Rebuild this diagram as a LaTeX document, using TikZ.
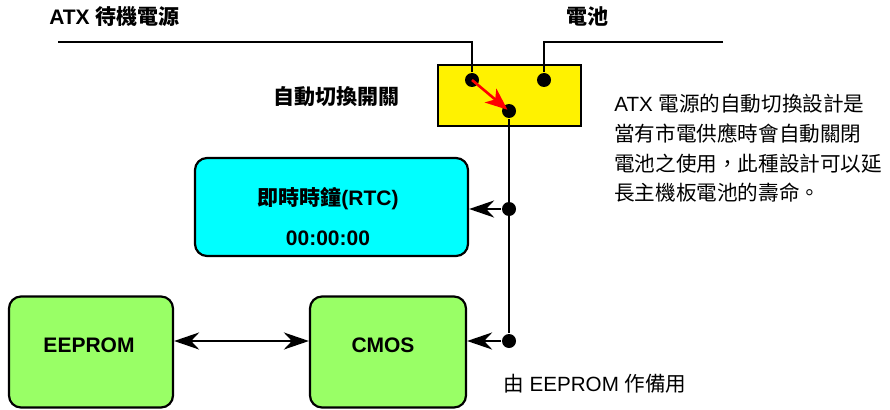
\documentclass[tikz,border=0pt]{standalone}
\usepackage{fontspec}
\setmainfont{Liberation Sans}
\newfontfamily\cjk{Noto Sans CJK TC}
\usetikzlibrary{arrows.meta, positioning}
\definecolor{rtccyan}{HTML}{00FFFF}
\definecolor{memgreen}{HTML}{99FF66}

\begin{document}
\begin{tikzpicture}[x=1pt, y=-1pt, line width=2.6pt,
    lbl/.style={font=\bfseries\fontsize{21}{25}\selectfont, inner sep=0pt, anchor=base west},
    note/.style={font=\fontsize{20.6}{26}\selectfont, inner sep=0pt, anchor=base west},
    boxtxt/.style={font=\bfseries\fontsize{21}{25}\selectfont, inner sep=0pt, anchor=base},
    block/.style={draw, rounded corners=12pt, line width=2.2pt, inner sep=0pt},
    dot/.style={circle, fill=black, inner sep=0pt, minimum size=14pt},
    feed/.style={-{Stealth[length=25pt, width=17pt, inset=8pt]}},
    twoway/.style={{Stealth[length=25pt, width=17pt, inset=8pt]}-{Stealth[length=25pt, width=17pt, inset=8pt]}}]
    \useasboundingbox (0,0) rectangle (890,409);
    % Supply labels
    \node[lbl] (atx) at (48,25) {ATX {\cjk 待機電源}};
    \node[lbl] (battery) at (565,25) {\cjk 電池};
    \node[lbl] (swlabel) at (272,104) {\cjk 自動切換開關};
    % Switch box
    \node[draw, fill=yellow, line width=1.3pt, minimum width=143pt, minimum height=61pt] (switch) at (509.5,95.5) {};
    % Contacts and taps
    \node[dot] (pina) at (472,80) {};
    \node[dot] (pinb) at (544,80) {};
    \node[dot] (pinc) at (509,111) {};
    \node[dot] (rtcdot) at (509,209) {};
    \node[dot] (cmosdot) at (509,341) {};
    % Supply lines
    \coordinate (atxend) at (58,42);
    \coordinate (batend) at (723,42);
    \draw (atxend) -- (atxend -| pina) -- (pina);
    \draw (batend) -- (batend -| pinb) -- (pinb);
    \draw (pinc) -- (cmosdot);
    % Switch lever
    \draw[red, line width=2.6pt, -{Stealth[length=22pt, width=18pt, inset=6pt]}, shorten >=2pt] (pina.center) -- (pinc.center);
    % Real time clock
    \node[block, fill=rtccyan, minimum width=273pt, minimum height=98pt] (rtc) at (331.5,207) {};
    \node[boxtxt] (rtctitle) at (328,205) {{\cjk 即時時鐘}(RTC)};
    \node[boxtxt] (rtctime) at (328,245) {00:00:00};
    % Memories
    \node[block, fill=memgreen, minimum width=164pt, minimum height=111pt] (eeprom) at (91,352) {};
    \node[boxtxt] (eepromtxt) at (89,352) {EEPROM};
    \node[block, fill=memgreen, minimum width=156pt, minimum height=111pt] (cmos) at (388,352) {};
    \node[boxtxt] (cmostxt) at (383,352) {CMOS};
    % Feeds
    \draw[feed] (rtcdot) -- (rtcdot -| rtc.east);
    \draw[feed] (cmosdot) -- (cmosdot -| cmos.east);
    \draw[twoway] (eeprom.east |- cmosdot) -- (cmos.west |- cmosdot);
    % Notes
    \node[note] (note1) at (613,111) {ATX {\cjk 電源的自動切換設計是}};
    \node[note] (note2) at (613,141) {\cjk 當有市電供應時會自動關閉};
    \node[note] (note3) at (613,171) {\cjk 電池之使用，此種設計可以延};
    \node[note] (note4) at (613,200) {\cjk 長主機板電池的壽命。};
    \node[note] (backup) at (502,391) {{\cjk 由} EEPROM {\cjk 作備用}};
\end{tikzpicture}
\end{document}
